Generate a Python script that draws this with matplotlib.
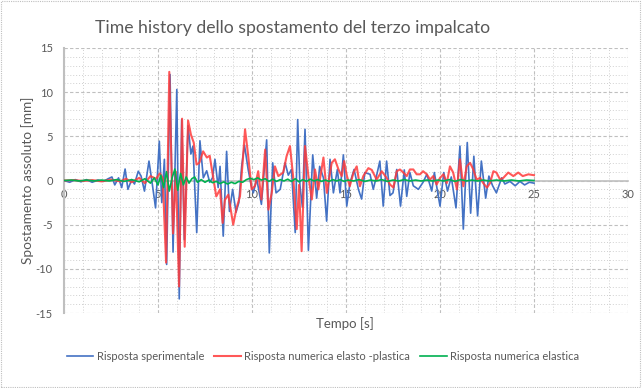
import matplotlib.pyplot as plt
from matplotlib.patches import Rectangle

# Risposta sperimentale (blue)
t_exp = [0.0, 0.3, 0.6, 0.9, 1.2, 1.5, 1.8, 2.1, 2.35, 2.55, 2.7, 2.9, 3.07, 3.25, 3.4, 3.6, 3.75, 3.95,
         4.1, 4.28, 4.52, 4.7, 4.87, 5.07, 5.2, 5.34, 5.46, 5.64, 5.8, 6.0, 6.13, 6.26, 6.4, 6.6, 6.75,
         6.86, 7.06, 7.23, 7.41, 7.59, 7.75, 7.9, 8.03, 8.2, 8.3, 8.47, 8.65, 8.8, 8.97, 9.15, 9.3, 9.45,
         9.6, 9.8, 9.95, 10.07, 10.25, 10.5, 10.78, 10.92, 11.1, 11.28, 11.5, 11.76, 11.93, 12.1, 12.3,
         12.43, 12.55, 12.68, 12.82, 13.0, 13.23, 13.44, 13.6, 13.8, 13.97, 14.15, 14.33, 14.54, 14.68,
         14.86, 15.04, 15.21, 15.43, 15.66, 15.83, 16.0, 16.28, 16.45, 16.6, 16.8, 16.98, 17.16, 17.34,
         17.5, 17.7, 17.9, 18.1, 18.23, 18.4, 18.58, 18.85, 19.1, 19.3, 19.56, 19.7, 20.0, 20.2, 20.4,
         20.6, 20.85, 21.06, 21.24, 21.45, 21.63, 21.8, 22.0, 22.2, 22.43, 22.6, 22.8, 23.0, 23.28,
         23.45, 23.72, 24.0, 24.25, 24.5, 24.75, 25.0]
v_exp = [0.0, -0.2, 0.1, -0.15, 0.1, -0.2, 0.05, -0.1, 0.2, 0.4, -0.5, 0.3, -0.8, 1.3, -1.0, 0.1, -0.4, 1.05,
         0.5, -1.2, 2.2, -0.45, -3.1, 4.45, -2.5, 2.4, -9.5, 12.0, -8.1, 10.3, -13.4, 6.9, -6.7, 6.2, 3.0,
         3.9, -5.9, 4.5, 0.3, 1.1, -0.2, 0.3, 2.4, -0.8, 1.6, -6.3, 3.3, -3.5, -1.0, -3.6, -2.5, 1.6,
         4.0, 1.2, -0.5, -1.4, 0.2, -2.7, 4.6, -8.2, 2.0, -1.4, -1.0, 2.0, 0.6, 1.25, -5.9,
         6.9, -0.6, -3.0, 5.8, -7.9, 2.9, -2.0, 1.6, 0.3, -4.6, 2.4, -1.4, 1.25, -1.4,
         2.9, -2.9, -0.3, 1.25, -1.0, -2.1, 0.9, 0.7, -1.0, 0.3, 2.2, -2.9, 2.2, -1.7,
         -1.4, 1.25, -2.9, 1.2, -1.8, 0.9, -0.6, -1.0, -0.2, 0.7, -1.2, 0.9, -2.9, 0.9, -1.2,
         0.4, -3.1, 3.9, -5.5, 4.3, -3.7, 2.75, -4.0, 2.2, -2.0, 0.5, -0.6, -1.4, 0.3,
         -0.4, -0.1, -0.6, -0.1, -0.5, -0.2, -0.3]

# Risposta numerica elasto-plastica (red)
t_ep = [0.0, 0.5, 1.0, 1.5, 2.0, 2.5, 3.0, 3.3, 3.6, 4.0, 4.3, 4.6, 4.9, 5.1, 5.25, 5.43, 5.6, 5.8, 5.95,
        6.12, 6.28, 6.42, 6.6, 6.75, 6.9, 7.05, 7.2, 7.4, 7.6, 7.75, 7.9, 8.1, 8.3, 8.44, 8.56, 8.74,
        9.0, 9.18, 9.36, 9.5, 9.63, 9.8, 9.98, 10.16, 10.33, 10.5, 10.7, 10.87, 11.05, 11.22, 11.4,
        11.66, 11.84, 12.02, 12.2, 12.38, 12.5, 12.64, 12.82, 13.0, 13.18, 13.35, 13.53, 13.8, 13.98,
        14.24, 14.41, 14.6, 14.77, 14.9, 15.04, 15.2, 15.4, 15.57, 15.74, 15.92, 16.19, 16.37, 16.63,
        16.9, 17.16, 17.34, 17.52, 17.7, 17.87, 18.05, 18.23, 18.4, 18.58, 18.76, 18.94, 19.1, 19.3,
        19.47, 19.64, 19.82, 20.0, 20.18, 20.36, 20.53, 20.7, 20.9, 21.06, 21.24, 21.42, 21.6, 21.77,
        21.95, 22.13, 22.3, 22.5, 22.66, 22.84, 23.0, 23.2, 23.37, 23.63, 23.9, 24.16, 24.4, 24.7, 25.0]
v_ep = [0.0, 0.05, -0.05, 0.05, -0.1, 0.1, -0.1, 0.2, -0.2, 0.3, -0.3, 0.5, 0.2, 0.8, 0.3, -9.3, 12.3, -6.0, 1.0,
        -12.0, 7.0, -7.5, 6.8, 5.2, 4.3, 1.8, 2.0, 3.3, 2.6, 2.8, 0.8, -1.8, -1.0, -4.8, -2.2, -1.6,
        -5.0, -3.1, -1.8, 2.0, 5.8, 2.75, -1.0, -0.6, 1.05, -2.15, 3.5, -3.3, -1.4, 1.6, 0.5,
        0.9, 2.75, 3.9, 0.2, -5.5, -0.5, -8.0, 3.9, 0.5, -2.15, 1.25, -1.0, 2.6, -1.4,
        2.0, 2.4, 1.25, 0.5, 2.2, 0.6, -0.65, 0.9, 1.6, -0.65, 0.5, 1.4, 1.2, 0.1,
        1.05, 0.3, -0.45, -0.8, 1.05, 1.25, 0.9, 0.5, 1.25, 1.25, 0.7, 0.7, 1.05, 0.7,
        0.1, 0.5, -0.45, 0.3, 0.7, -0.3, 1.6, 0.9, -1.0, 2.4, -0.65, 1.6, 2.0, 1.25,
        0.1, 0.3, -0.3, -0.8, -0.3, 1.05, 0.9, 0.1, 0.3, 0.9, 0.5, 0.9, 0.5, 0.7, 0.6]

# Risposta numerica elastica (green)
t_el = [0.0, 0.4, 0.8, 1.2, 1.6, 2.0, 2.4, 2.8, 3.2, 3.6, 4.0, 4.3, 4.6, 4.8, 5.0, 5.15, 5.3, 5.45, 5.6,
        5.75, 5.9, 6.05, 6.2, 6.35, 6.5, 6.65, 6.8, 6.95, 7.1, 7.3, 7.5, 7.7, 7.9, 8.1, 8.3, 8.5, 8.7,
        8.9, 9.1, 9.3, 9.5, 9.7, 9.9, 10.1, 10.3, 10.5, 10.7, 10.9, 11.1, 11.3, 11.5, 11.7, 11.9, 12.1,
        12.3, 12.5, 12.7, 12.9, 13.1, 13.3, 13.5, 13.7, 13.9, 14.1, 14.3, 14.5, 14.7, 14.9, 15.1, 15.4,
        15.7, 16.0, 16.3, 16.6, 16.9, 17.2, 17.5, 17.8, 18.1, 18.4, 18.7, 19.0, 19.3, 19.6, 19.9, 20.2,
        20.5, 20.8, 21.1, 21.4, 21.7, 22.0, 22.3, 22.6, 23.0, 23.4, 23.8, 24.2, 24.6, 25.0]
v_el = [0.0, 0.05, -0.05, 0.05, -0.05, 0.05, -0.05, 0.1, -0.1, 0.1, -0.15, 0.2, -0.3, 0.3, -0.5, 0.6, -0.8, 1.0, -1.2,
        0.3, 1.3, -1.1, 0.8, -0.5, 0.4, -0.3, 0.2, 0.4, -0.2, 0.1, -0.2, 0.05, -0.25, -0.1, -0.35, -0.15, -0.4,
        -0.2, -0.35, -0.1, -0.2, 0.1, 0.25, 0.1, 0.3, 0.05, 0.2, -0.1, 0.15, -0.1, 0.1, -0.05, 0.15, -0.1,
        0.2, -0.15, 0.1, -0.1, 0.15, -0.05, 0.1, -0.1, 0.05, -0.1, 0.1, -0.05, 0.1, -0.1, 0.05, -0.05,
        0.1, -0.1, 0.05, -0.05, 0.1, -0.1, 0.05, -0.05, 0.1, -0.05, 0.05, -0.05, 0.05, -0.05, 0.05, -0.05,
        0.1, -0.1, 0.1, -0.05, 0.05, -0.05, 0.05, -0.05, 0.05, -0.05, 0.05, -0.05, 0.05, 0.0]

labels = ['Risposta sperimentale', 'Risposta numerica elasto -plastica', 'Risposta numerica elastica']

plt.rcParams['font.family'] = ['Lato', 'DejaVu Sans']
plt.rcParams['axes.unicode_minus'] = False
text_col = '#595959'

fig = plt.figure(figsize=(6.42, 3.88), dpi=100)
ax = fig.add_axes([64 / 642, 1 - 313 / 388, 564 / 642, 265 / 388])

ax.plot(t_exp, v_exp, color='#4472C4', lw=1.2, label=labels[0], zorder=3)
ax.plot(t_ep, v_ep, color='#FF3B3B', lw=1.5, alpha=0.85, label=labels[1], zorder=4)
ax.plot(t_el, v_el, color='#00B050', lw=1.2, label=labels[2], zorder=5)

ax.set_xlim(0, 30)
ax.set_ylim(-15, 15)
ax.set_xticks(range(0, 31, 5))
ax.set_yticks(range(-15, 16, 5))
ax.set_xticks(range(0, 31), minor=True)
ax.set_yticks(range(-15, 16), minor=True)
ax.grid(which='major', color='#BFBFBF', linestyle=(0, (3, 2)), lw=0.8)
ax.grid(which='minor', color='#D0D0D0', linestyle=(0, (1, 2)), lw=0.7)
ax.set_axisbelow(True)

for s in ['top', 'right']:
    ax.spines[s].set_visible(False)
ax.spines['bottom'].set_position(('data', 0))
ax.spines['bottom'].set_color('#BFBFBF')
ax.spines['bottom'].set_linewidth(1.2)
ax.spines['left'].set_color('#BFBFBF')
ax.spines['left'].set_linewidth(1.5)
ax.tick_params(which='both', length=0, labelsize=8, labelcolor=text_col)
ax.tick_params(axis='x', pad=6)
ax.tick_params(axis='y', pad=8)

ax.set_ylabel('Spostamento assoluto [mm]', fontsize=9.8, color=text_col, labelpad=1)
fig.text(345 / 642, 1 - 324 / 388, 'Tempo [s]', fontsize=9.5, color=text_col, ha='center', va='center')
fig.text(293 / 642, 1 - 28 / 388, 'Time history dello spostamento del terzo impalcato',
         fontsize=12.7, color=text_col, ha='center', va='center')

fig.legend(loc='center', bbox_to_anchor=(323 / 642, 1 - 356 / 388), ncol=3, frameon=False,
           fontsize=8, labelcolor=text_col, handlelength=2.4, handletextpad=0.3, columnspacing=0.9)

fig.patches.append(Rectangle((0.002, 0.003), 0.995, 0.994, transform=fig.transFigure, fill=False,
                             edgecolor='#BFBFBF', lw=0.8, linestyle=(0, (1, 1))))

fig.savefig('out.png', dpi=100)
